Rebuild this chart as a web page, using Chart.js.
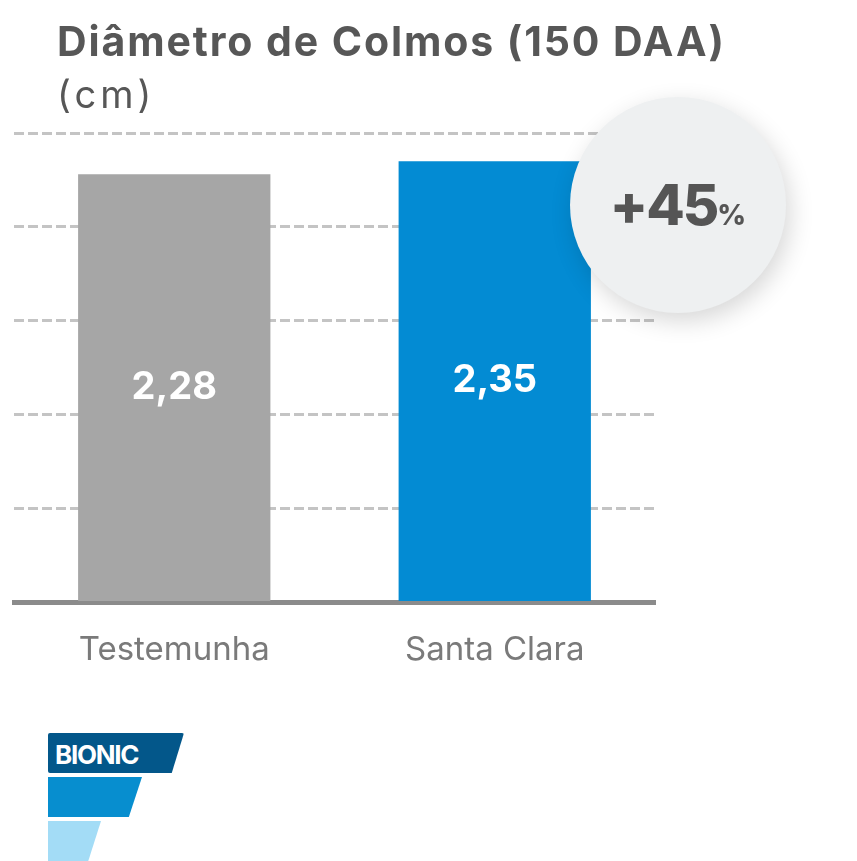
<!DOCTYPE html>
<html>
<head>
<meta charset="utf-8">
<script src="https://cdn.jsdelivr.net/npm/chart.js@4.4.1/dist/chart.umd.min.js"></script>
<style>
  html, body { margin: 0; padding: 0; background: #fff; }
  #wrap { position: relative; width: 857px; height: 861px; overflow: hidden; font-family: 'Inter', sans-serif; }
  #chartBox { position: absolute; left: 0; top: 0; width: 857px; height: 861px; }
  .title { position: absolute; left: 57px; top: 16px; font-size: 41px; font-weight: 700; color: #575757; white-space: nowrap; letter-spacing: 1.9px; }
  .unit { position: absolute; left: 57px; top: 71px; font-size: 38px; font-weight: 400; color: #575757; letter-spacing: 4px; }
  .badge { position: absolute; left: 570px; top: 97px; width: 216px; height: 216px; border-radius: 50%; background: #eef0f1;
           box-shadow: 4px 8px 24px rgba(0,0,0,0.16); text-align: center; line-height: 216px; color: #555; font-weight: 800; }
  .badge .big { font-size: 56px; letter-spacing: -2px; }
  .badge .pct { font-size: 28px; }
  .logo div { position: absolute; }
  .l1 { left: 48px; top: 733px; width: 136px; height: 40px; background: #03578a; clip-path: polygon(0 0, 100% 0, 91% 100%, 0 100%); border-radius: 2px; }
  .l1 span { position: absolute; left: 7px; top: 6px; color: #fff; font-weight: 700; font-size: 26px; letter-spacing: -1.3px; }
  .l2 { left: 48px; top: 777px; width: 94px; height: 40px; background: #078ecf; clip-path: polygon(0 0, 100% 0, 86% 100%, 0 100%); }
  .l3 { left: 48px; top: 821px; width: 53px; height: 40px; background: #a3dcf6; clip-path: polygon(0 0, 100% 0, 76% 100%, 0 100%); }
</style>
</head>
<body>
<div id="wrap">
  <div id="chartBox"><canvas id="diamChart"></canvas></div>
  <div class="title">Diâmetro de Colmos (150 DAA)</div>
  <div class="unit">(cm)</div>
  <div class="badge"><span class="big">+45</span><span class="pct">%</span></div>
  <div class="logo">
    <div class="l1"><span>BIONIC</span></div>
    <div class="l2"></div>
    <div class="l3"></div>
  </div>
</div>
<script>
// Data for the chart
const categories = ['Testemunha', 'Santa Clara'];
const values = [2.28, 2.35];
const valueLabels = ['2,28', '2,35'];
const barColors = ['#a6a6a6', '#038bd3'];
const yMax = 2.5;
const yStep = 0.5;

// write the value in the middle of each bar
const midLabels = {
    id: 'midLabels',
    afterDatasetsDraw(chart) {
        const ctx = chart.ctx;
        const meta = chart.getDatasetMeta(0);
        ctx.save();
        ctx.fillStyle = '#ffffff';
        ctx.font = '700 38px Inter';
        ctx.textAlign = 'center';
        ctx.textBaseline = 'middle';
        meta.data.forEach((bar, i) => {
            ctx.fillText(valueLabels[i], bar.x, (bar.y + bar.base) / 2);
        });
        ctx.restore();
    }
};

const ctx = document.getElementById('diamChart').getContext('2d');
new Chart(ctx, {
    type: 'bar',
    data: {
        labels: categories,
        datasets: [{
            data: values,
            backgroundColor: barColors,
            borderWidth: 0,
            barPercentage: 0.6,
            categoryPercentage: 1
        }]
    },
    options: {
        responsive: true,
        maintainAspectRatio: false,
        animation: false,
        layout: {
            padding: { left: 14, right: 202, top: 133, bottom: 163 }
        },
        scales: {
            x: {
                grid: { display: false, drawTicks: false },
                border: { display: true, color: '#8b8b8b', width: 5 },
                ticks: {
                    color: '#7a7a7a',
                    padding: 28,
                    font: { family: 'Inter', size: 33 }
                }
            },
            y: {
                min: 0,
                max: yMax,
                grid: { color: '#c4c4c4', lineWidth: 3, drawTicks: false },
                border: { display: false, dash: [10, 4] },
                ticks: { display: false, stepSize: yStep }
            }
        },
        plugins: {
            legend: { display: false },
            tooltip: { enabled: false }
        }
    },
    plugins: [midLabels]
});
</script>
</body>
</html>
